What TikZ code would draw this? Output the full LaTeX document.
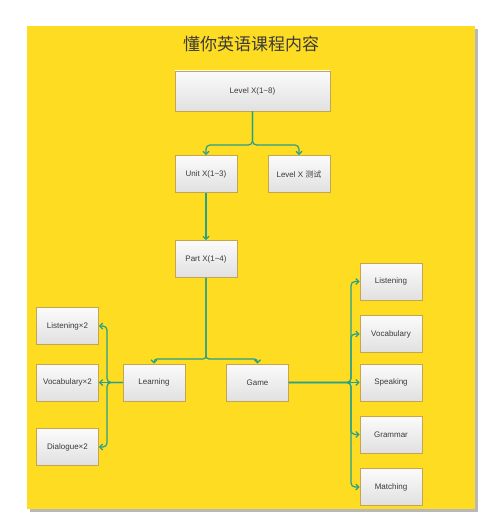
\documentclass[tikz,border=0pt]{standalone}
\usepackage{fontspec}
\setmainfont{Liberation Sans}
\newfontfamily\cjk{Noto Sans CJK SC}
\usepackage{xcolor}
\usetikzlibrary{arrows.meta, positioning}

\definecolor{bgyellow}{HTML}{FDDC22}
\definecolor{bgshadow}{HTML}{B8B8B8}
\definecolor{boxline}{HTML}{C4A553}
\definecolor{linkteal}{HTML}{27A08C}
\definecolor{txtgray}{HTML}{3A3A3A}

\begin{document}
\begin{tikzpicture}[x=1pt, y=-1pt,
    box/.style={draw=boxline, line width=0.8pt, top color=white!97!gray, bottom color=gray!24,
        minimum width=62pt, minimum height=37pt, inner sep=0pt,
        font=\fontsize{8}{9}\selectfont, text=txtgray},
    link/.style={draw=linkteal, line width=1.2pt, rounded corners=4pt,
        -{Straight Barb[length=3pt, width=6pt]}}]
                        \useasboundingbox (0, 0) rectangle (484, 518);
                        \fill[bgshadow] (30, 29) rectangle (478, 512);
                        \fill[bgyellow] (27, 26) rectangle (475, 509);
                        \node[font=\cjk\fontsize{17}{20}\selectfont, text=txtgray] (title) at (251, 44) {懂你英语课程内容};
                        % top part
                        \node[box, minimum width=155pt, minimum height=40pt] (lvl) at (252.5, 91) {Level X(1\textasciitilde 8)};
                        \node[box] (unit) at (206, 174) {Unit X(1\textasciitilde 3)};
                        \node[box] (test) at (299, 174) {Level X {\cjk 测试}};
                        \node[box] (part) at (206, 259) {Part X(1\textasciitilde 4)};
                        % middle row
                        \node[box] (learn) at (154, 382.5) {Learning};
                        \node[box] (game) at (257.5, 382.5) {Game};
                        % Learning side
                        \node[box] (lListen) at (67.5, 326) {Listening×2};
                        \node[box] (lVocab) at (67.5, 382.5) {Vocabulary×2};
                        \node[box] (lDialog) at (67.5, 447) {Dialogue×2};
                        % Game side
                        \node[box] (gListen) at (391, 281.5) {Listening};
                        \node[box] (gVocab) at (391, 334) {Vocabulary};
                        \node[box] (gSpeak) at (391, 382.5) {Speaking};
                        \node[box] (gGrammar) at (391, 434.5) {Grammar};
                        \node[box] (gMatch) at (391, 487) {Matching};
                        \coordinate (lvlJoin) at (252.5, 145);
                        \coordinate (partJoin) at (206, 359);
                        \coordinate (learnJoin) at (107, 382.5);
                        \coordinate (gameJoin) at (351, 382.5);
                        \draw[link] (lvl.south) -- (lvlJoin) -| (unit.north);
                        \draw[link] (lvl.south) -- (lvlJoin) -| (test.north);
                        \draw[link] (unit) -- (part);
                        \draw[link, rounded corners=3pt] (part.south) -- (partJoin) -| (learn.north);
                        \draw[link, rounded corners=3pt] (part.south) -- (partJoin) -| (game.north);
                        \draw[link] (learn.west) -- (learnJoin) |- (lListen.east);
                        \draw[link] (learn.west) -- (lVocab.east);
                        \draw[link] (learn.west) -- (learnJoin) |- (lDialog.east);
                        \draw[link] (game.east) -- (gameJoin) |- (gListen.west);
                        \draw[link] (game.east) -- (gameJoin) |- (gVocab.west);
                        \draw[link] (game.east) -- (gSpeak.west);
                        \draw[link] (game.east) -- (gameJoin) |- (gGrammar.west);
                        \draw[link] (game.east) -- (gameJoin) |- (gMatch.west);
\end{tikzpicture}
\end{document}
